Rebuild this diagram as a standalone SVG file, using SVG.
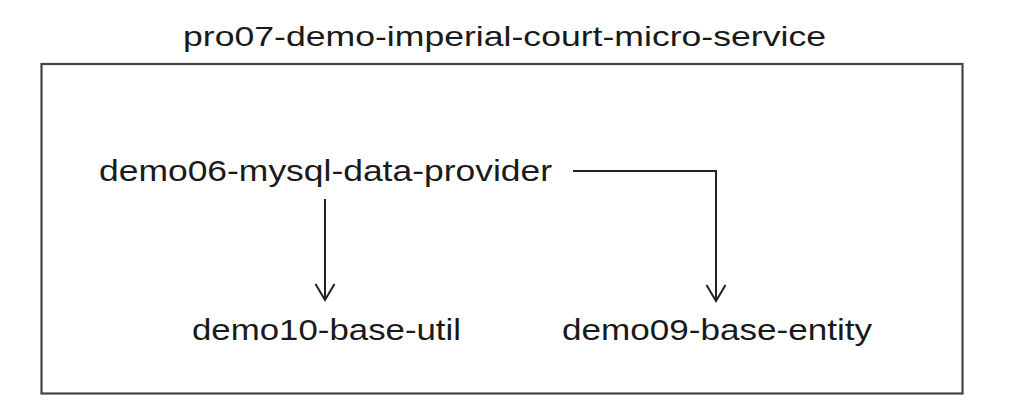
<svg xmlns="http://www.w3.org/2000/svg" width="1010" height="414" viewBox="0 0 1010 414">
<defs>
<style>
.lbl{font-family:"Liberation Sans","Noto Sans",sans-serif;fill:#1a1a1a}
.t{font-size:28px}
.n{font-size:30px}
.edge{fill:none;stroke:#222;stroke-width:2}
</style>
<marker id="arr" markerUnits="userSpaceOnUse" markerWidth="22" markerHeight="26" viewBox="-19 -13 22 26" refX="0" refY="0" orient="auto" overflow="visible">
<path d="M-16,-9.5 L0,0 L-16,9.5" fill="none" stroke="#222" stroke-width="2"/>
</marker>
</defs>
<rect width="1010" height="414" fill="#fff"/>
<g id="container">
<rect x="41.5" y="64" width="921" height="329.5" fill="none" stroke="#444" stroke-width="2.2"/>
<text class="lbl t" x="183" y="46" textLength="643" lengthAdjust="spacingAndGlyphs">pro07-demo-imperial-court-micro-service</text>
</g>
<g id="node-demo06">
<text class="lbl n" x="99" y="181" textLength="453" lengthAdjust="spacingAndGlyphs">demo06-mysql-data-provider</text>
</g>
<g id="node-demo10">
<text class="lbl n" x="192" y="340" textLength="269" lengthAdjust="spacingAndGlyphs">demo10-base-util</text>
</g>
<g id="node-demo09">
<text class="lbl n" x="562" y="340" textLength="310" lengthAdjust="spacingAndGlyphs">demo09-base-entity</text>
</g>
<g id="connectors">
<path class="edge" d="M325,199 L325,300" marker-end="url(#arr)"/>
<path class="edge" d="M573,171 L716,171 L716,301" marker-end="url(#arr)"/>
</g>
</svg>
